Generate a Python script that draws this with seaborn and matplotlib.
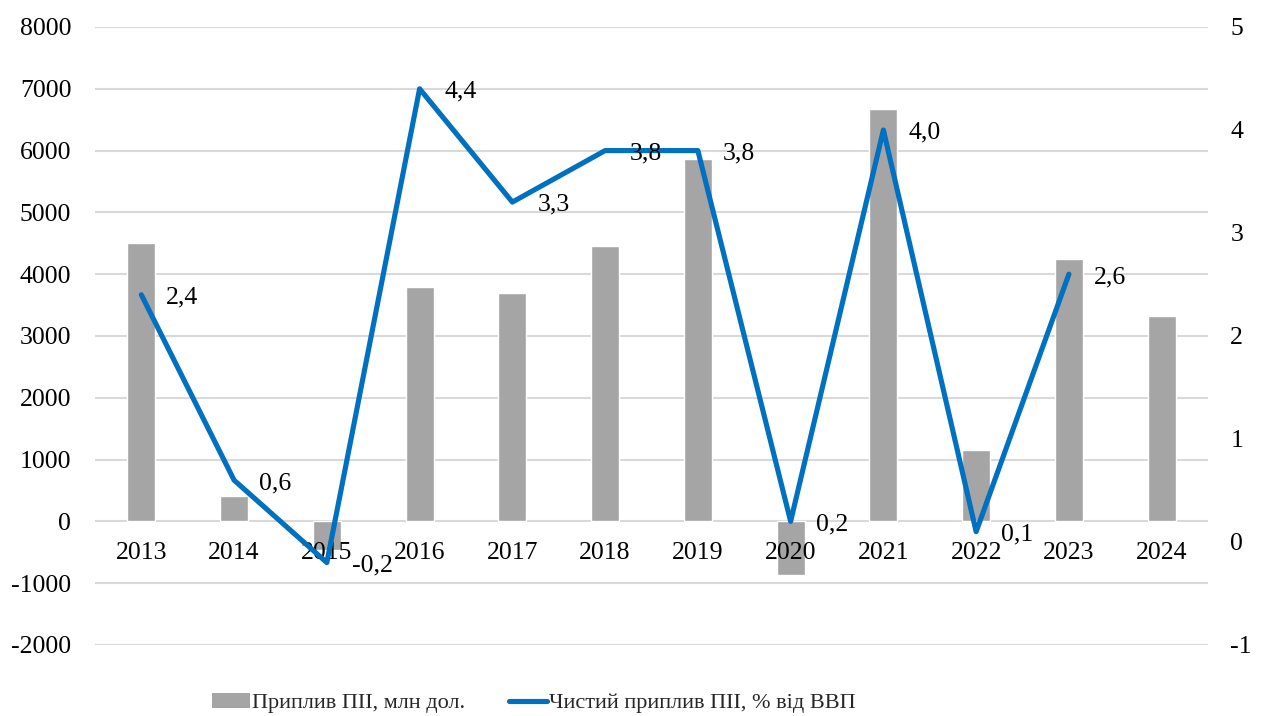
import matplotlib
matplotlib.use("Agg")
import matplotlib.pyplot as plt
import numpy as np
import pandas as pd
import seaborn as sns
from matplotlib.lines import Line2D
from matplotlib.patches import Patch

# дані
years = ["2013", "2014", "2015", "2016", "2017", "2018",
         "2019", "2020", "2021", "2022", "2023", "2024"]
inflow_musd = [4500, 405, -465, 3800, 3690, 4450, 5860, -870, 6680, 1150, 4240, 3330]
net_inflow_gdp = [2.4, 0.6, -0.2, 4.4, 3.3, 3.8, 3.8, 0.2, 4.0, 0.1, 2.6, np.nan]
bar_label = "Приплив ПІІ, млн дол."
line_label = "Чистий приплив ПІІ, % від ВВП"

bar_color = "#A5A5A5"
line_color = "#0070C0"
grid_color = "#D9D9D9"

sns.set_theme(style="white")
plt.rcParams['font.family'] = ['Liberation Serif', 'DejaVu Serif']
plt.rcParams['font.size'] = 18.5
plt.rcParams['axes.unicode_minus'] = False

df = pd.DataFrame({"year": years, "inflow": inflow_musd, "gdp": net_inflow_gdp})
df["pos"] = np.arange(len(df))

fig = plt.figure(figsize=(12.61, 7.16), dpi=100)
ax = fig.add_axes([0.0753, 0.0992, 0.8827, 0.8631])

# стовпчики
sns.barplot(data=df, x="year", y="inflow", color=bar_color, saturation=1,
            width=0.3, ax=ax, zorder=2)
ax.set_ylim(-2000, 8000)
ax.set_yticks(range(-2000, 8001, 1000))
ax.set_xlim(-0.5, len(years) - 0.5)
ax.yaxis.grid(True, color=grid_color, linewidth=1.5)
ax.set_axisbelow(True)
ax.xaxis.set_zorder(3)  # підписи років поверх стовпчиків
ax.set_xlabel("")
ax.set_ylabel("")
for s in ax.spines.values():
    s.set_visible(False)
ax.spines['bottom'].set_position(('data', 0))
ax.tick_params(axis='x', length=0, pad=15, labelsize=18.5, colors='black')
ax.tick_params(axis='y', length=0, pad=17, labelsize=18.5, colors='black')

# лінія на правій осі
ax2 = ax.twinx()
sns.lineplot(data=df, x="pos", y="gdp", color=line_color, linewidth=3.7,
             ax=ax2, legend=False)
ax2.set_ylim(-1, 5)
ax2.set_yticks(range(-1, 6))
ax2.set_xlim(-0.5, len(years) - 0.5)
ax2.set_xlabel("")
ax2.set_ylabel("")
ax2.grid(False)
for s in ax2.spines.values():
    s.set_visible(False)
ax2.tick_params(axis='x', bottom=False, labelbottom=False)
ax2.tick_params(axis='y', length=0, pad=16, labelsize=18.5, colors='black')
for lab in ax2.get_yticklabels():
    lab.set_horizontalalignment('left')

# підписи даних
for p, v in zip(df["pos"], df["gdp"]):
    if np.isnan(v):
        continue
    ax2.annotate(f"{v:.1f}".replace(".", ","), (p, v), xytext=(18, -2),
                 textcoords="offset points", ha="left", va="center",
                 fontsize=18.5, color="black")

# легенда
handles = [Patch(facecolor=bar_color, edgecolor="none"),
           Line2D([0], [0], color=line_color, linewidth=3.7)]
fig.legend(handles, [bar_label, line_label], loc="center left",
           bbox_to_anchor=(0.168, 0.018), ncol=2, frameon=False,
           fontsize=16, handlelength=1.7, handletextpad=0.1,
           columnspacing=2.0, borderpad=0, borderaxespad=0)

fig.savefig("out.png", dpi=100)
